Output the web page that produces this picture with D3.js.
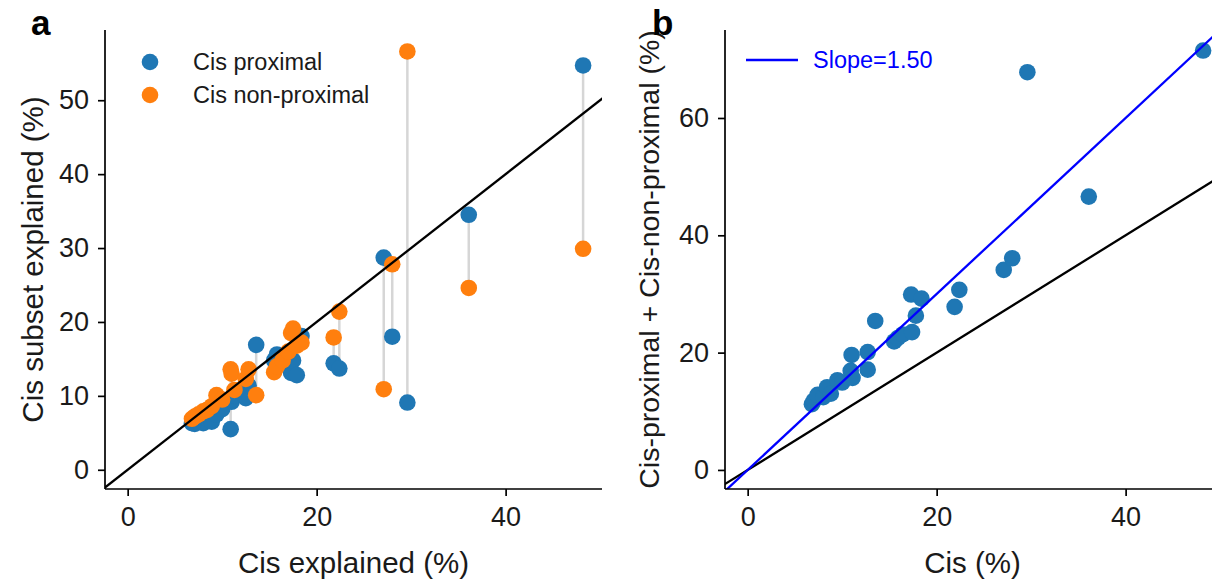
<!DOCTYPE html>
<html>
<head>
<meta charset="utf-8">
<script src="https://cdn.jsdelivr.net/npm/d3@7"></script>
<style>
  html, body { margin: 0; padding: 0; background: #fff; }
  svg { display: block; font-family: "Liberation Sans", Arial, sans-serif; }
</style>
</head>
<body>
<svg id="fig" width="1212" height="579"></svg>
<script>
// Panel a: variance explained by the whole cis region vs. each cis subset
const cisA =        [6.8, 7.1, 7.5, 8.0, 8.4, 8.9, 9.4, 10.0, 10.9, 11.0, 11.3, 12.5, 12.8, 13.6, 15.5, 15.8, 16.4, 17.0, 17.3, 17.5, 17.9, 18.4, 21.8, 22.4, 27.1, 28.0, 29.6, 36.1, 48.2];
const proximalA =   [6.3, 6.2, 6.5, 6.3, 6.9, 6.5, 7.5, 8.2, 5.5, 9.2, 10.0, 9.7, 11.4, 16.9, 14.8, 15.6, 15.2, 15.9, 13.1, 14.8, 12.8, 18.1, 14.4, 13.7, 28.7, 18.0, 9.1, 34.5, 54.7];
const nonProximalA =[6.9, 7.2, 7.5, 7.9, 8.1, 8.6, 10.1, 9.5, 13.6, 13.0, 10.8, 12.3, 13.6, 10.1, 13.2, 14.0, 14.8, 16.0, 18.5, 19.1, 16.8, 17.2, 17.9, 21.4, 10.9, 27.8, 56.6, 24.6, 29.9];

// Panel b: cis vs. proximal + non-proximal combined
const cisB =   [6.8, 7.0, 7.4, 8.0, 8.4, 8.8, 9.5, 10.0, 11.0, 10.9, 11.1, 12.7, 12.7, 13.5, 15.5, 15.9, 16.4, 17.3, 17.4, 17.8, 18.4, 21.9, 22.4, 27.1, 28.0, 29.6, 36.1, 48.2];
const totalB = [11.2, 11.8, 12.8, 12.4, 14.1, 13.0, 15.3, 14.9, 19.6, 16.9, 15.7, 17.1, 20.1, 25.4, 21.9, 22.5, 23.1, 29.9, 23.5, 26.3, 29.2, 27.8, 30.7, 34.1, 36.1, 67.8, 46.6, 71.5];
const slopeB = 1.50;

const xTicks = [0, 20, 40];
const yTicksA = [0, 10, 20, 30, 40, 50];
const yTicksB = [0, 20, 40, 60];

const BLUE = "#1f77b4", ORANGE = "#ff7f0e";
const TEXT = "#1a1a1a";
const svg = d3.select("#fig");

const W = 497, H = 459, TOP = 30;
const xDomain = [-2.4, 50.2];

function axesFrame(g, x, y, yTicks, id) {
  g.append("clipPath").attr("id", id)
    .append("rect").attr("x", 0).attr("y", 0).attr("width", W).attr("height", H);

  const xa = g.append("g").attr("transform", `translate(0,${H})`)
    .call(d3.axisBottom(x).tickValues(xTicks).tickSize(7).tickPadding(11).tickFormat(d3.format("d")));
  const ya = g.append("g")
    .call(d3.axisLeft(y).tickValues(yTicks).tickSize(7).tickPadding(9).tickFormat(d3.format("d")));
  [xa, ya].forEach(a => {
    a.select(".domain").attr("stroke", "#000").attr("stroke-width", 1.7);
    a.selectAll(".tick line").attr("stroke", "#000").attr("stroke-width", 1.7);
    a.selectAll(".tick text").attr("fill", TEXT).style("font-size", "27px");
  });
  // spines on left and bottom only, spanning the full axes box
  xa.select(".domain").attr("d", `M0,0H${W}`);
  ya.select(".domain").attr("d", `M0,0V${H}`);
}

/* ---------------- panel a ---------------- */
const gA = svg.append("g").attr("transform", `translate(105,${TOP})`);
const xA = d3.scaleLinear().domain(xDomain).range([0, W]);
const yA = d3.scaleLinear().domain([-2.6, 59.5]).range([H, 0]);

const plotA = gA.append("g").attr("clip-path", "url(#clipA)");
const rowsA = cisA.map((c, i) => ({ c, p: proximalA[i], n: nonProximalA[i] }));

plotA.selectAll("line.pair").data(rowsA).join("line").attr("class", "pair")
  .attr("x1", d => xA(d.c)).attr("x2", d => xA(d.c))
  .attr("y1", d => yA(d.p)).attr("y2", d => yA(d.n))
  .attr("stroke", "#d6d6d6").attr("stroke-width", 2.5);

plotA.selectAll("circle.prox").data(rowsA).join("circle").attr("class", "prox")
  .attr("cx", d => xA(d.c)).attr("cy", d => yA(d.p)).attr("r", 8.3).attr("fill", BLUE);
plotA.selectAll("circle.nonprox").data(rowsA).join("circle").attr("class", "nonprox")
  .attr("cx", d => xA(d.c)).attr("cy", d => yA(d.n)).attr("r", 8.3).attr("fill", ORANGE);

// identity line
plotA.append("line")
  .attr("x1", xA(-10)).attr("y1", yA(-10)).attr("x2", xA(80)).attr("y2", yA(80))
  .attr("stroke", "#000").attr("stroke-width", 2.3);

axesFrame(gA, xA, yA, yTicksA, "clipA");

// legend
const legA = gA.append("g");
[["Cis proximal", BLUE, 32], ["Cis non-proximal", ORANGE, 65]].forEach(([t, c, yy]) => {
  legA.append("circle").attr("cx", 45).attr("cy", yy).attr("r", 8.3).attr("fill", c);
  legA.append("text").attr("x", 88).attr("y", yy + 8).text(t)
    .style("font-size", "23.5px").attr("fill", TEXT);
});

gA.append("text").attr("x", W / 2).attr("y", H + 84).attr("text-anchor", "middle")
  .style("font-size", "29.5px").attr("fill", TEXT).text("Cis explained (%)");
svg.append("text").attr("transform", `translate(43,${TOP + H / 2}) rotate(-90)`)
  .attr("text-anchor", "middle").style("font-size", "29.5px").attr("fill", TEXT)
  .text("Cis subset explained (%)");

/* ---------------- panel b ---------------- */
const gB = svg.append("g").attr("transform", `translate(725,${TOP})`);
const xB = d3.scaleLinear().domain(xDomain).range([0, W]);
const yB = d3.scaleLinear().domain([-3.25, 75.0]).range([H, 0]);
const plotB = gB.append("g").attr("clip-path", "url(#clipB)");

plotB.selectAll("circle.tot").data(cisB.map((c, i) => ({ c, t: totalB[i] }))).join("circle")
  .attr("class", "tot").attr("cx", d => xB(d.c)).attr("cy", d => yB(d.t)).attr("r", 8.3).attr("fill", BLUE);

plotB.append("line")
  .attr("x1", xB(-10)).attr("y1", yB(-10)).attr("x2", xB(80)).attr("y2", yB(80))
  .attr("stroke", "#000").attr("stroke-width", 2.3);
plotB.append("line")
  .attr("x1", xB(-10)).attr("y1", yB(-10 * slopeB)).attr("x2", xB(80)).attr("y2", yB(80 * slopeB))
  .attr("stroke", "#0000ff").attr("stroke-width", 2.3);

axesFrame(gB, xB, yB, yTicksB, "clipB");

gB.append("line").attr("x1", 21).attr("x2", 73).attr("y1", 30).attr("y2", 30)
  .attr("stroke", "#0000ff").attr("stroke-width", 2.6);
gB.append("text").attr("x", 88).attr("y", 38).style("font-size", "23.5px").attr("fill", "#0000ff")
  .text(`Slope=${slopeB.toFixed(2)}`);

gB.append("text").attr("x", W / 2 - 1).attr("y", H + 84).attr("text-anchor", "middle")
  .style("font-size", "29.5px").attr("fill", TEXT).text("Cis (%)");
svg.append("text").attr("transform", `translate(659,${TOP + H / 2}) rotate(-90)`)
  .attr("text-anchor", "middle").style("font-size", "28.5px").attr("fill", TEXT)
  .text("Cis-proximal + Cis-non-proximal (%)");

/* panel letters */
svg.append("text").attr("x", 31).attr("y", 35).style("font-size", "35px").style("font-weight", "bold").text("a");
svg.append("text").attr("x", 652).attr("y", 35).style("font-size", "35px").style("font-weight", "bold").text("b");
</script>
</body>
</html>
